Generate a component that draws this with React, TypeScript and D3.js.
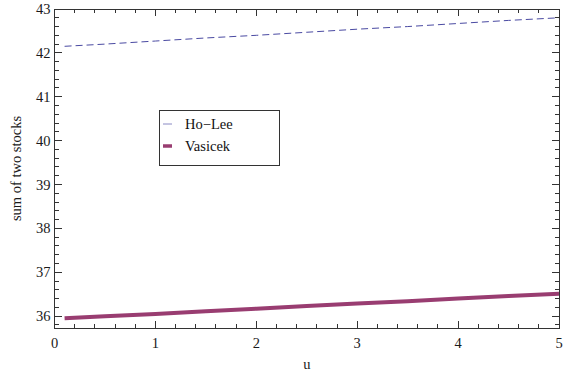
import { useRef, useEffect } from 'react';
import * as d3 from 'd3';

const uValues = [0.1, 0.5, 1, 1.5, 2, 2.5, 3, 3.5, 4, 4.5, 5];
const hoLee = [42.15, 42.2, 42.27, 42.34, 42.4, 42.47, 42.54, 42.6, 42.67, 42.74, 42.8];
const vasicek = [35.95, 36.0, 36.05, 36.11, 36.17, 36.23, 36.29, 36.34, 36.4, 36.46, 36.51];
const xTicks = [0, 1, 2, 3, 4, 5];
const yTicks = [36, 37, 38, 39, 40, 41, 42, 43];

const seriesNames = ['Ho\u2212Lee', 'Vasicek'];

export default function App() {
  const svgRef = useRef<SVGSVGElement>(null);

  useEffect(() => {
    if (!svgRef.current) return;
    const svg = d3.select(svgRef.current);
    svg.selectAll('*').remove();

    const width = 571;
    const height = 376;
    const left = 54.5, right = 559, top = 9, bottom = 328;
    const font = "'Liberation Serif', serif";
    const axisColor = '#333';

    const x = d3.scaleLinear().domain([0, 5]).range([left, right]);
    const y = d3.scaleLinear().domain([35.73, 43.0]).range([bottom, top]);

    svg.attr('width', width).attr('height', height);

    const line = d3.line<number>()
      .x((_, i) => x(uValues[i]))
      .y(d => y(d));

    // series
    svg.append('path')
      .datum(hoLee)
      .attr('fill', 'none')
      .attr('stroke', '#4a4aa2')
      .attr('stroke-width', 1)
      .attr('stroke-dasharray', '7,4')
      .attr('d', line);

    svg.append('path')
      .datum(vasicek)
      .attr('fill', 'none')
      .attr('stroke', '#993d71')
      .attr('stroke-width', 4)
      .attr('d', line);

    // frame
    const frame = svg.append('g').attr('stroke', axisColor).attr('stroke-width', 1).attr('shape-rendering', 'crispEdges');
    frame.append('rect')
      .attr('x', left).attr('y', top)
      .attr('width', right - left).attr('height', bottom - top)
      .attr('fill', 'none');

    // x ticks (bottom + top)
    const xMinor = d3.range(0, 5.0001, 0.2);
    xMinor.forEach(v => {
      const major = Math.abs(v - Math.round(v)) < 1e-6;
      const len = major ? 7 : 4;
      frame.append('line').attr('x1', x(v)).attr('x2', x(v)).attr('y1', bottom).attr('y2', bottom - len);
      frame.append('line').attr('x1', x(v)).attr('x2', x(v)).attr('y1', top).attr('y2', top + len);
    });

    // y ticks (left + right)
    const yMinor = d3.range(35.8, 43.0001, 0.2);
    yMinor.forEach(v => {
      const major = Math.abs(v - Math.round(v)) < 1e-6;
      const len = major ? 7 : 4;
      frame.append('line').attr('y1', y(v)).attr('y2', y(v)).attr('x1', left).attr('x2', left + len);
      frame.append('line').attr('y1', y(v)).attr('y2', y(v)).attr('x1', right).attr('x2', right - len);
    });

    const txt = (sel: d3.Selection<any, any, any, any>) =>
      sel.style('font-family', font).style('font-size', '14.5px').attr('fill', '#1a1a1a');

    // tick labels
    svg.append('g')
      .selectAll('text')
      .data(xTicks)
      .join('text')
      .attr('x', d => x(d))
      .attr('y', bottom + 20)
      .attr('text-anchor', 'middle')
      .call(txt)
      .text(d => d);

    svg.append('g')
      .selectAll('text')
      .data(yTicks)
      .join('text')
      .attr('x', left - 4)
      .attr('y', d => y(d) + 5)
      .attr('text-anchor', 'end')
      .call(txt)
      .text(d => d);

    // axis titles
    svg.append('text')
      .attr('x', (left + right) / 2)
      .attr('y', 369)
      .attr('text-anchor', 'middle')
      .call(txt)
      .text('u');

    svg.append('text')
      .attr('transform', `translate(21,${(top + bottom) / 2}) rotate(-90)`)
      .attr('text-anchor', 'middle')
      .call(txt)
      .text('sum of two stocks');

    // legend
    const legend = svg.append('g');
    legend.append('rect')
      .attr('x', 159.5).attr('y', 110.5)
      .attr('width', 120).attr('height', 55)
      .attr('fill', 'white')
      .attr('stroke', '#333');
    const legendColors = ['#8a8ac4', '#993d71'];
    const legendWidths = [1, 3.5];
    seriesNames.forEach((name, i) => {
      const ly = 124 + i * 22;
      legend.append('line')
        .attr('x1', 163).attr('x2', 172)
        .attr('y1', ly).attr('y2', ly)
        .attr('stroke', legendColors[i])
        .attr('stroke-width', legendWidths[i]);
      legend.append('text')
        .attr('x', 185).attr('y', ly + 5)
        .call(txt)
        .attr('fill', '#111')
        .text(name);
    });
  }, []);

  return (
    <div style={{ position: 'absolute', left: 0, top: 0 }}>
      <svg ref={svgRef} width={571} height={376} style={{ display: 'block' }} />
    </div>
  );
}
